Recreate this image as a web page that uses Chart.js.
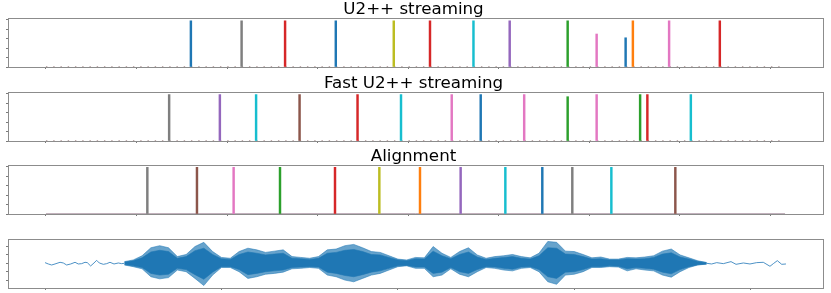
<!DOCTYPE html>
<html><head><meta charset="utf-8">
<script src="https://cdn.jsdelivr.net/npm/chart.js@4.4.1/dist/chart.umd.min.js"></script>
<style>
html,body{margin:0;padding:0;background:#fff;}
#wrap{position:relative;width:831px;height:293px;overflow:hidden;background:#fff;}
canvas{position:absolute;left:0;top:0;}
</style></head><body>
<div id="wrap">
<canvas id="c1" width="831" height="293"></canvas>
<canvas id="c2" width="831" height="293"></canvas>
<canvas id="c3" width="831" height="293"></canvas>
<canvas id="c4" width="831" height="293"></canvas>
</div>
<script>
// ---------------- data ----------------
const titles = ['U2++ streaming', 'Fast U2++ streaming', 'Alignment'];

// spike position (frame index), peak posterior, token colour-cycle index
const u2Frames = [20, 27, 33, 40, 48, 53, 59, 64, 72, 76, 80, 81, 86, 93];
const u2Probs  = [0.98, 0.98, 0.98, 0.98, 0.98, 0.98, 0.98, 0.98, 0.98, 0.70, 0.62, 0.98, 0.98, 0.98];
const u2Tokens = [0, 7, 3, 0, 8, 3, 9, 4, 2, 6, 0, 1, 6, 3];

const fastFrames = [17, 24, 29, 35, 43, 49, 56, 60, 66, 72, 76, 82, 83, 89];
const fastProbs  = [0.985, 0.985, 0.985, 0.985, 0.985, 0.985, 0.985, 0.985, 0.985, 0.94, 0.985, 0.985, 0.985, 0.985];
const fastTokens = [7, 4, 9, 5, 3, 9, 6, 0, 6, 2, 6, 2, 3, 9];

const alignFrames = [13.99, 20.84, 25.90, 32.30, 39.89, 46.01, 51.62, 57.23, 63.40, 68.50, 72.64, 78.03, 86.86];
const alignProbs  = [0.99, 0.99, 0.99, 0.99, 0.99, 0.99, 0.99, 0.99, 0.99, 0.99, 0.99, 0.99, 0.99];
const alignTokens = [7, 5, 6, 2, 3, 8, 1, 4, 9, 0, 7, 9, 5];

const lastFrame = 102;
const frameTicks = [0, 12.5, 25, 37.5, 50, 62.5, 75, 87.5, 100];
const probTicks = [0, 0.2, 0.4, 0.6, 0.8, 1.0];

// waveform (x in thousands of samples)
const waveTicks = [0, 20, 40, 60, 80];
const ampTicks = [-0.4, -0.2, 0, 0.2, 0.4];
const headX = [0, 0.37, 0.75, 1.13, 1.70, 2.07, 2.45, 2.91, 3.40, 3.77, 4.15, 4.53, 4.79, 5.17, 5.55, 5.85, 6.15, 6.61, 6.99, 7.36, 7.82, 8.31, 8.69, 9.0];
const headY = [0.016, -0.016, -0.04, -0.016, 0.024, 0.008, -0.04, -0.016, 0.024, -0.016, -0.008, 0.024, 0.016, -0.063, 0.008, 0.071, 0.008, -0.024, -0.008, 0.024, -0.016, 0.008, -0.008, 0.0];
const tailX = [75.0, 75.58, 76.15, 76.90, 77.77, 78.34, 79.17, 79.92, 80.68, 81.43, 82.19, 82.57, 83.02, 83.52, 84.0];
const tailY = [0, -0.016, 0.016, -0.008, 0.04, -0.024, 0.008, -0.016, 0.016, 0.024, -0.071, -0.008, 0.063, -0.024, -0.016];
const envX = [9,10,11,12,13,14,15,16,17,18, 19,20,21,22,23,24,25,26,27,28, 29,30,31,32,33,34,35,36,37,38,
              39,40,41,42,43,44,45,46,47,48, 49,50,51,52,53,54,55,56,57,58, 59,60,61,62,63,64,65,66,67,68, 69,70,71,72,73,74,75];
const envTop = [0.04,0.08,0.18,0.37,0.42,0.37,0.16,0.21,0.40,0.50, 0.28,0.14,0.12,0.28,0.36,0.32,0.26,0.29,0.32,0.16,
                0.14,0.12,0.16,0.32,0.34,0.42,0.45,0.37,0.28,0.26, 0.18,0.10,0.08,0.14,0.13,0.40,0.24,0.14,0.28,0.37,
                0.20,0.12,0.16,0.18,0.21,0.16,0.13,0.24,0.52,0.50, 0.29,0.28,0.21,0.13,0.15,0.10,0.10,0.14,0.13,0.15,
                0.18,0.29,0.34,0.20,0.13,0.06,0.02];
const envBottom = [0.04,0.08,0.13,0.32,0.37,0.34,0.16,0.20,0.36,0.53, 0.28,0.10,0.10,0.20,0.36,0.32,0.26,0.24,0.21,0.13,
                   0.12,0.10,0.12,0.28,0.32,0.40,0.44,0.36,0.28,0.24, 0.16,0.08,0.06,0.12,0.12,0.32,0.28,0.13,0.26,0.32,
                   0.20,0.10,0.12,0.16,0.18,0.12,0.10,0.20,0.44,0.50, 0.28,0.26,0.20,0.10,0.10,0.08,0.09,0.18,0.13,0.16,
                   0.18,0.28,0.33,0.20,0.10,0.04,0.02];
const coreTop = [0.03,0.06,0.13,0.27,0.31,0.28,0.12,0.16,0.30,0.36, 0.21,0.11,0.09,0.21,0.27,0.24,0.20,0.22,0.24,0.12,
                 0.11,0.09,0.12,0.24,0.26,0.31,0.33,0.28,0.21,0.20, 0.14,0.08,0.06,0.11,0.10,0.29,0.18,0.11,0.21,0.27,
                 0.15,0.09,0.12,0.14,0.16,0.12,0.10,0.18,0.37,0.36, 0.22,0.21,0.16,0.10,0.11,0.08,0.08,0.11,0.10,0.11,
                 0.14,0.22,0.25,0.15,0.10,0.045,0.015];
const coreBottom = [0.03,0.06,0.10,0.24,0.28,0.26,0.12,0.15,0.27,0.38, 0.21,0.08,0.08,0.15,0.27,0.24,0.20,0.18,0.16,0.10,
                    0.09,0.08,0.09,0.21,0.24,0.29,0.32,0.27,0.21,0.18, 0.12,0.06,0.05,0.09,0.09,0.24,0.21,0.10,0.20,0.24,
                    0.15,0.08,0.09,0.12,0.14,0.09,0.08,0.15,0.32,0.36, 0.21,0.20,0.15,0.08,0.08,0.06,0.07,0.13,0.10,0.12,
                    0.14,0.21,0.25,0.15,0.08,0.035,0.015];

// ---------------- styling ----------------
const palette = ['#1f77b4','#ff7f0e','#2ca02c','#d62728','#9467bd','#8c564b','#e377c2','#7f7f7f','#bcbd22','#17becf'];
const WAVE = '#1f77b4';
const WAVE_LIGHT = 'rgba(31,119,180,0.68)';
Chart.defaults.font.family = 'DejaVu Sans';

const framePlugin = {
  id: 'frame',
  afterDatasetsDraw(c) {
    const a = c.chartArea, ctx = c.ctx;
    ctx.save();
    ctx.strokeStyle = '#8c8c8c';
    ctx.lineWidth = 1;
    ctx.strokeRect(Math.round(a.left) + 0.5, Math.round(a.top) + 0.5,
                   Math.round(a.right - a.left), Math.round(a.bottom - a.top));
    ctx.restore();
  }
};

function axis(min, max, ticks, isX) {
  return {
    type: 'linear', min, max, offset: false,
    position: isX ? 'bottom' : 'left',
    afterBuildTicks: s => { s.ticks = ticks.map(v => ({ value: v })); },
    afterFit: s => { if (isX) s.height = 4; else s.width = 4; },
    ticks: { display: false },
    grid: { display: true, drawOnChartArea: false, drawTicks: true, tickLength: 2,
            color: '#7a7a7a', offset: false, lineWidth: 1 },
    border: { display: false }
  };
}

const TITLE_H = 16.7 * 0.96;

function spikeChart(id, title, frames, probs, tokens, top, bottom, baseStyle) {
  new Chart(document.getElementById(id), {
    type: 'bar',
    data: {
      datasets: [
        { type: 'bar', data: frames.map((f, i) => ({ x: f, y: probs[i] })),
          backgroundColor: tokens.map(t => palette[t]), barThickness: 1.8, grouped: false,
          borderWidth: 0, order: 1 },
        { type: 'line', data: [{ x: 0, y: 0.008 }, { x: lastFrame, y: 0.008 }],
          borderColor: baseStyle.color, borderWidth: 1, borderDash: baseStyle.dash,
          pointRadius: 0, order: 2 }
      ]
    },
    options: {
      responsive: false, animation: false, devicePixelRatio: 1, events: [],
      layout: { padding: { left: 4, right: 8, top: top - TITLE_H, bottom: 293 - bottom - 4 } },
      plugins: {
        legend: { display: false }, tooltip: { enabled: false },
        title: { display: true, text: title, color: '#000',
                 font: { family: 'DejaVu Sans', size: 16.7, weight: 'normal', lineHeight: 0.96 },
                 padding: { top: 0, bottom: 0 } }
      },
      scales: { x: axis(-5.24, 107.24, frameTicks, true), y: axis(0, 1.04, probTicks, false) }
    },
    plugins: [framePlugin]
  });
}

spikeChart('c1', titles[0], u2Frames, u2Probs, u2Tokens, 18, 67, { color: 'rgba(150,120,120,0.7)', dash: [1.4, 5.85] });
spikeChart('c2', titles[1], fastFrames, fastProbs, fastTokens, 92, 141, { color: 'rgba(150,120,120,0.7)', dash: [1.4, 5.85] });
spikeChart('c3', titles[2], alignFrames, alignProbs, alignTokens, 165, 214, { color: 'rgba(140,110,130,0.6)', dash: [] });

const pts = (xs, ys, sign) => xs.map((x, i) => ({ x, y: sign * ys[i] }));
new Chart(document.getElementById('c4'), {
  type: 'line',
  data: {
    datasets: [
      { data: pts(envX, envTop, 1), fill: '+1', backgroundColor: WAVE_LIGHT,
        borderColor: WAVE_LIGHT, borderWidth: 0.8, pointRadius: 0, tension: 0 },
      { data: pts(envX, envBottom, -1), fill: false,
        borderColor: WAVE_LIGHT, borderWidth: 0.8, pointRadius: 0, tension: 0 },
      { data: pts(envX, coreTop, 1), fill: '+1', backgroundColor: WAVE,
        borderColor: WAVE, borderWidth: 0.6, pointRadius: 0, tension: 0 },
      { data: pts(envX, coreBottom, -1), fill: false,
        borderColor: WAVE, borderWidth: 0.6, pointRadius: 0, tension: 0 },
      { data: pts(headX, headY, 1), fill: false, borderColor: '#3a86c0', borderWidth: 0.9, pointRadius: 0, tension: 0 },
      { data: pts(tailX, tailY, 1), fill: false, borderColor: '#3a86c0', borderWidth: 0.9, pointRadius: 0, tension: 0 }
    ]
  },
  options: {
    responsive: false, animation: false, devicePixelRatio: 1, events: [],
    layout: { padding: { left: 4, right: 8, top: 239, bottom: 293 - 288 - 4 } },
    plugins: { legend: { display: false }, tooltip: { enabled: false }, title: { display: false } },
    scales: { x: axis(-4.2, 88.2, waveTicks, true), y: axis(-0.588, 0.579, ampTicks, false) }
  },
  plugins: [framePlugin]
});
</script>
</body></html>
